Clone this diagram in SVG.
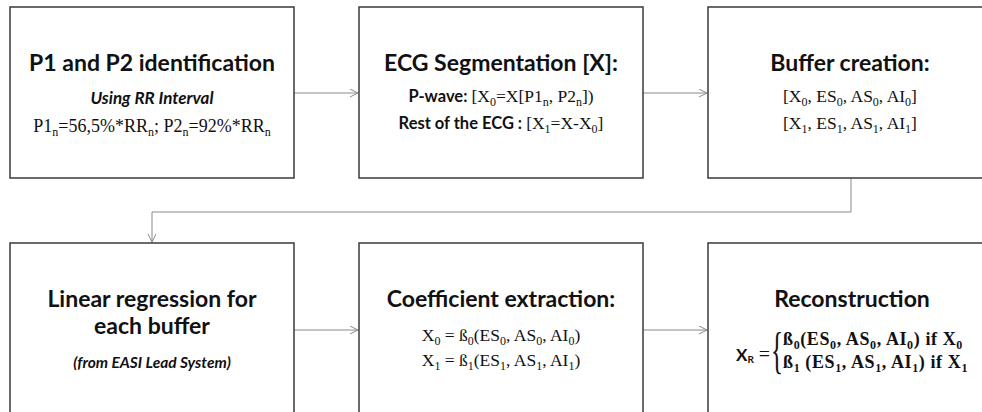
<svg xmlns="http://www.w3.org/2000/svg" width="982" height="412" viewBox="0 0 982 412">
<style>
.box{fill:#fff;stroke:#3a3a3a;stroke-width:1.5}
.conn{fill:none;stroke:#8a8a8a;stroke-width:1}
.t{font-family:Lato,"Liberation Sans",sans-serif;font-weight:bold;font-size:23px;text-anchor:middle;fill:#111}
.bi{font-family:Lato,"Liberation Sans",sans-serif;font-weight:bold;font-style:italic;font-size:17px;text-anchor:middle;fill:#111}
.sb{font-family:Lato,"Liberation Sans",sans-serif;font-weight:bold;font-size:16.5px;fill:#111}
.s{font-family:"Liberation Serif",serif;font-size:18px;text-anchor:middle;fill:#111}
.sx{font-family:"Liberation Serif",serif;font-size:17.5px;fill:#111}
.sxb{font-family:"Liberation Serif",serif;font-size:18px;font-weight:bold;fill:#111}
.sm{font-size:12px}
</style>
<defs>
<marker id="arr" markerWidth="10" markerHeight="10" refX="8" refY="4" orient="auto" markerUnits="userSpaceOnUse">
<path d="M0,0 L8,4 L0,8" fill="none" stroke="#8a8a8a" stroke-width="1"/>
</marker>
</defs>
<g id="connectors">
<line class="conn" x1="294" y1="93" x2="358" y2="93" marker-end="url(#arr)"/>
<line class="conn" x1="643" y1="93" x2="707" y2="93" marker-end="url(#arr)"/>
<polyline class="conn" points="851,178 851,212 152,212 152,242" marker-end="url(#arr)"/>
<line class="conn" x1="294" y1="330" x2="358" y2="330" marker-end="url(#arr)"/>
<line class="conn" x1="643" y1="330" x2="707" y2="330" marker-end="url(#arr)"/>
</g>
<g id="node1">
<rect class="box" x="10" y="7" width="284" height="171"/>
<text class="t" x="152" y="71">P1 and P2 identification</text>
<text class="bi" x="152" y="104">Using RR Interval</text>
<text class="s" x="152" y="132">P1<tspan class="sm" dy="4">n</tspan><tspan dy="-4">=56,5%*RR</tspan><tspan class="sm" dy="4">n</tspan><tspan dy="-4">; P2</tspan><tspan class="sm" dy="4">n</tspan><tspan dy="-4">=92%*RR</tspan><tspan class="sm" dy="4">n</tspan></text>
</g>
<g id="node2">
<rect class="box" x="359" y="7" width="284" height="171"/>
<text class="t" x="501" y="71">ECG Segmentation [X]:</text>
<text x="501" y="102" text-anchor="middle"><tspan class="sb">P-wave: </tspan><tspan class="sx">[X</tspan><tspan class="sx sm" dy="4">0</tspan><tspan class="sx" dy="-4">=X[P1</tspan><tspan class="sx sm" dy="4">n</tspan><tspan class="sx" dy="-4">, P2</tspan><tspan class="sx sm" dy="4">n</tspan><tspan class="sx" dy="-4">])</tspan></text>
<text x="501" y="129" text-anchor="middle"><tspan class="sb">Rest of the ECG : </tspan><tspan class="sx">[X</tspan><tspan class="sx sm" dy="4">1</tspan><tspan class="sx" dy="-4">=X-X</tspan><tspan class="sx sm" dy="4">0</tspan><tspan class="sx" dy="-4">]</tspan></text>
</g>
<g id="node3">
<rect class="box" x="708" y="7" width="290" height="171"/>
<text class="t" x="850" y="71">Buffer creation:</text>
<text x="850" y="102" text-anchor="middle"><tspan class="sx">[X</tspan><tspan class="sx sm" dy="4">0</tspan><tspan class="sx" dy="-4">, ES</tspan><tspan class="sx sm" dy="4">0</tspan><tspan class="sx" dy="-4">, AS</tspan><tspan class="sx sm" dy="4">0</tspan><tspan class="sx" dy="-4">, AI</tspan><tspan class="sx sm" dy="4">0</tspan><tspan class="sx" dy="-4">]</tspan></text>
<text x="850" y="129" text-anchor="middle"><tspan class="sx">[X</tspan><tspan class="sx sm" dy="4">1</tspan><tspan class="sx" dy="-4">, ES</tspan><tspan class="sx sm" dy="4">1</tspan><tspan class="sx" dy="-4">, AS</tspan><tspan class="sx sm" dy="4">1</tspan><tspan class="sx" dy="-4">, AI</tspan><tspan class="sx sm" dy="4">1</tspan><tspan class="sx" dy="-4">]</tspan></text>
</g>
<g id="node4">
<rect class="box" x="10" y="243" width="284" height="180"/>
<text class="t" x="152" y="307">Linear regression for</text>
<text class="t" x="152" y="334">each buffer</text>
<text class="bi" x="152" y="368" style="font-size:15.5px">(from EASI Lead System)</text>
</g>
<g id="node5">
<rect class="box" x="359" y="243" width="284" height="180"/>
<text class="t" x="501" y="307">Coefficient extraction:</text>
<text x="501" y="341" text-anchor="middle"><tspan class="sx">X</tspan><tspan class="sx sm" dy="4">0</tspan><tspan class="sx" dy="-4"> = ß</tspan><tspan class="sx sm" dy="4">0</tspan><tspan class="sx" dy="-4">(ES</tspan><tspan class="sx sm" dy="4">0</tspan><tspan class="sx" dy="-4">, AS</tspan><tspan class="sx sm" dy="4">0</tspan><tspan class="sx" dy="-4">, AI</tspan><tspan class="sx sm" dy="4">0</tspan><tspan class="sx" dy="-4">)</tspan></text>
<text x="501" y="366" text-anchor="middle"><tspan class="sx">X</tspan><tspan class="sx sm" dy="4">1</tspan><tspan class="sx" dy="-4"> = ß</tspan><tspan class="sx sm" dy="4">1</tspan><tspan class="sx" dy="-4">(ES</tspan><tspan class="sx sm" dy="4">1</tspan><tspan class="sx" dy="-4">, AS</tspan><tspan class="sx sm" dy="4">1</tspan><tspan class="sx" dy="-4">, AI</tspan><tspan class="sx sm" dy="4">1</tspan><tspan class="sx" dy="-4">)</tspan></text>
</g>
<g id="node6">
<rect class="box" x="708" y="243" width="290" height="180"/>
<text class="t" x="852" y="307">Reconstruction</text>
<text x="736" y="361"><tspan class="sb" style="font-size:17px">X</tspan><tspan class="sb" style="font-size:10px" dy="2">R</tspan><tspan class="sx" dy="-2" style="font-size:20px"> =</tspan></text>
<text x="771" y="367" style="font-family:'Liberation Serif',serif;font-size:50px;font-weight:normal;fill:#111" transform="translate(771 367) scale(0.5 1) translate(-771 -367)">{</text>
<text x="783" y="345" letter-spacing="0.6"><tspan class="sxb">ß</tspan><tspan class="sxb sm" dy="4">0</tspan><tspan class="sxb" dy="-4">(ES</tspan><tspan class="sxb sm" dy="4">0</tspan><tspan class="sxb" dy="-4">, AS</tspan><tspan class="sxb sm" dy="4">0</tspan><tspan class="sxb" dy="-4">, AI</tspan><tspan class="sxb sm" dy="4">0</tspan><tspan class="sxb" dy="-4">) if X</tspan><tspan class="sxb sm" dy="4">0</tspan></text>
<text x="783" y="368" letter-spacing="0.6"><tspan class="sxb">ß</tspan><tspan class="sxb sm" dy="4">1</tspan><tspan class="sxb" dy="-4"> (ES</tspan><tspan class="sxb sm" dy="4">1</tspan><tspan class="sxb" dy="-4">, AS</tspan><tspan class="sxb sm" dy="4">1</tspan><tspan class="sxb" dy="-4">, AI</tspan><tspan class="sxb sm" dy="4">1</tspan><tspan class="sxb" dy="-4">) if X</tspan><tspan class="sxb sm" dy="4">1</tspan></text>
</g>
</svg>
